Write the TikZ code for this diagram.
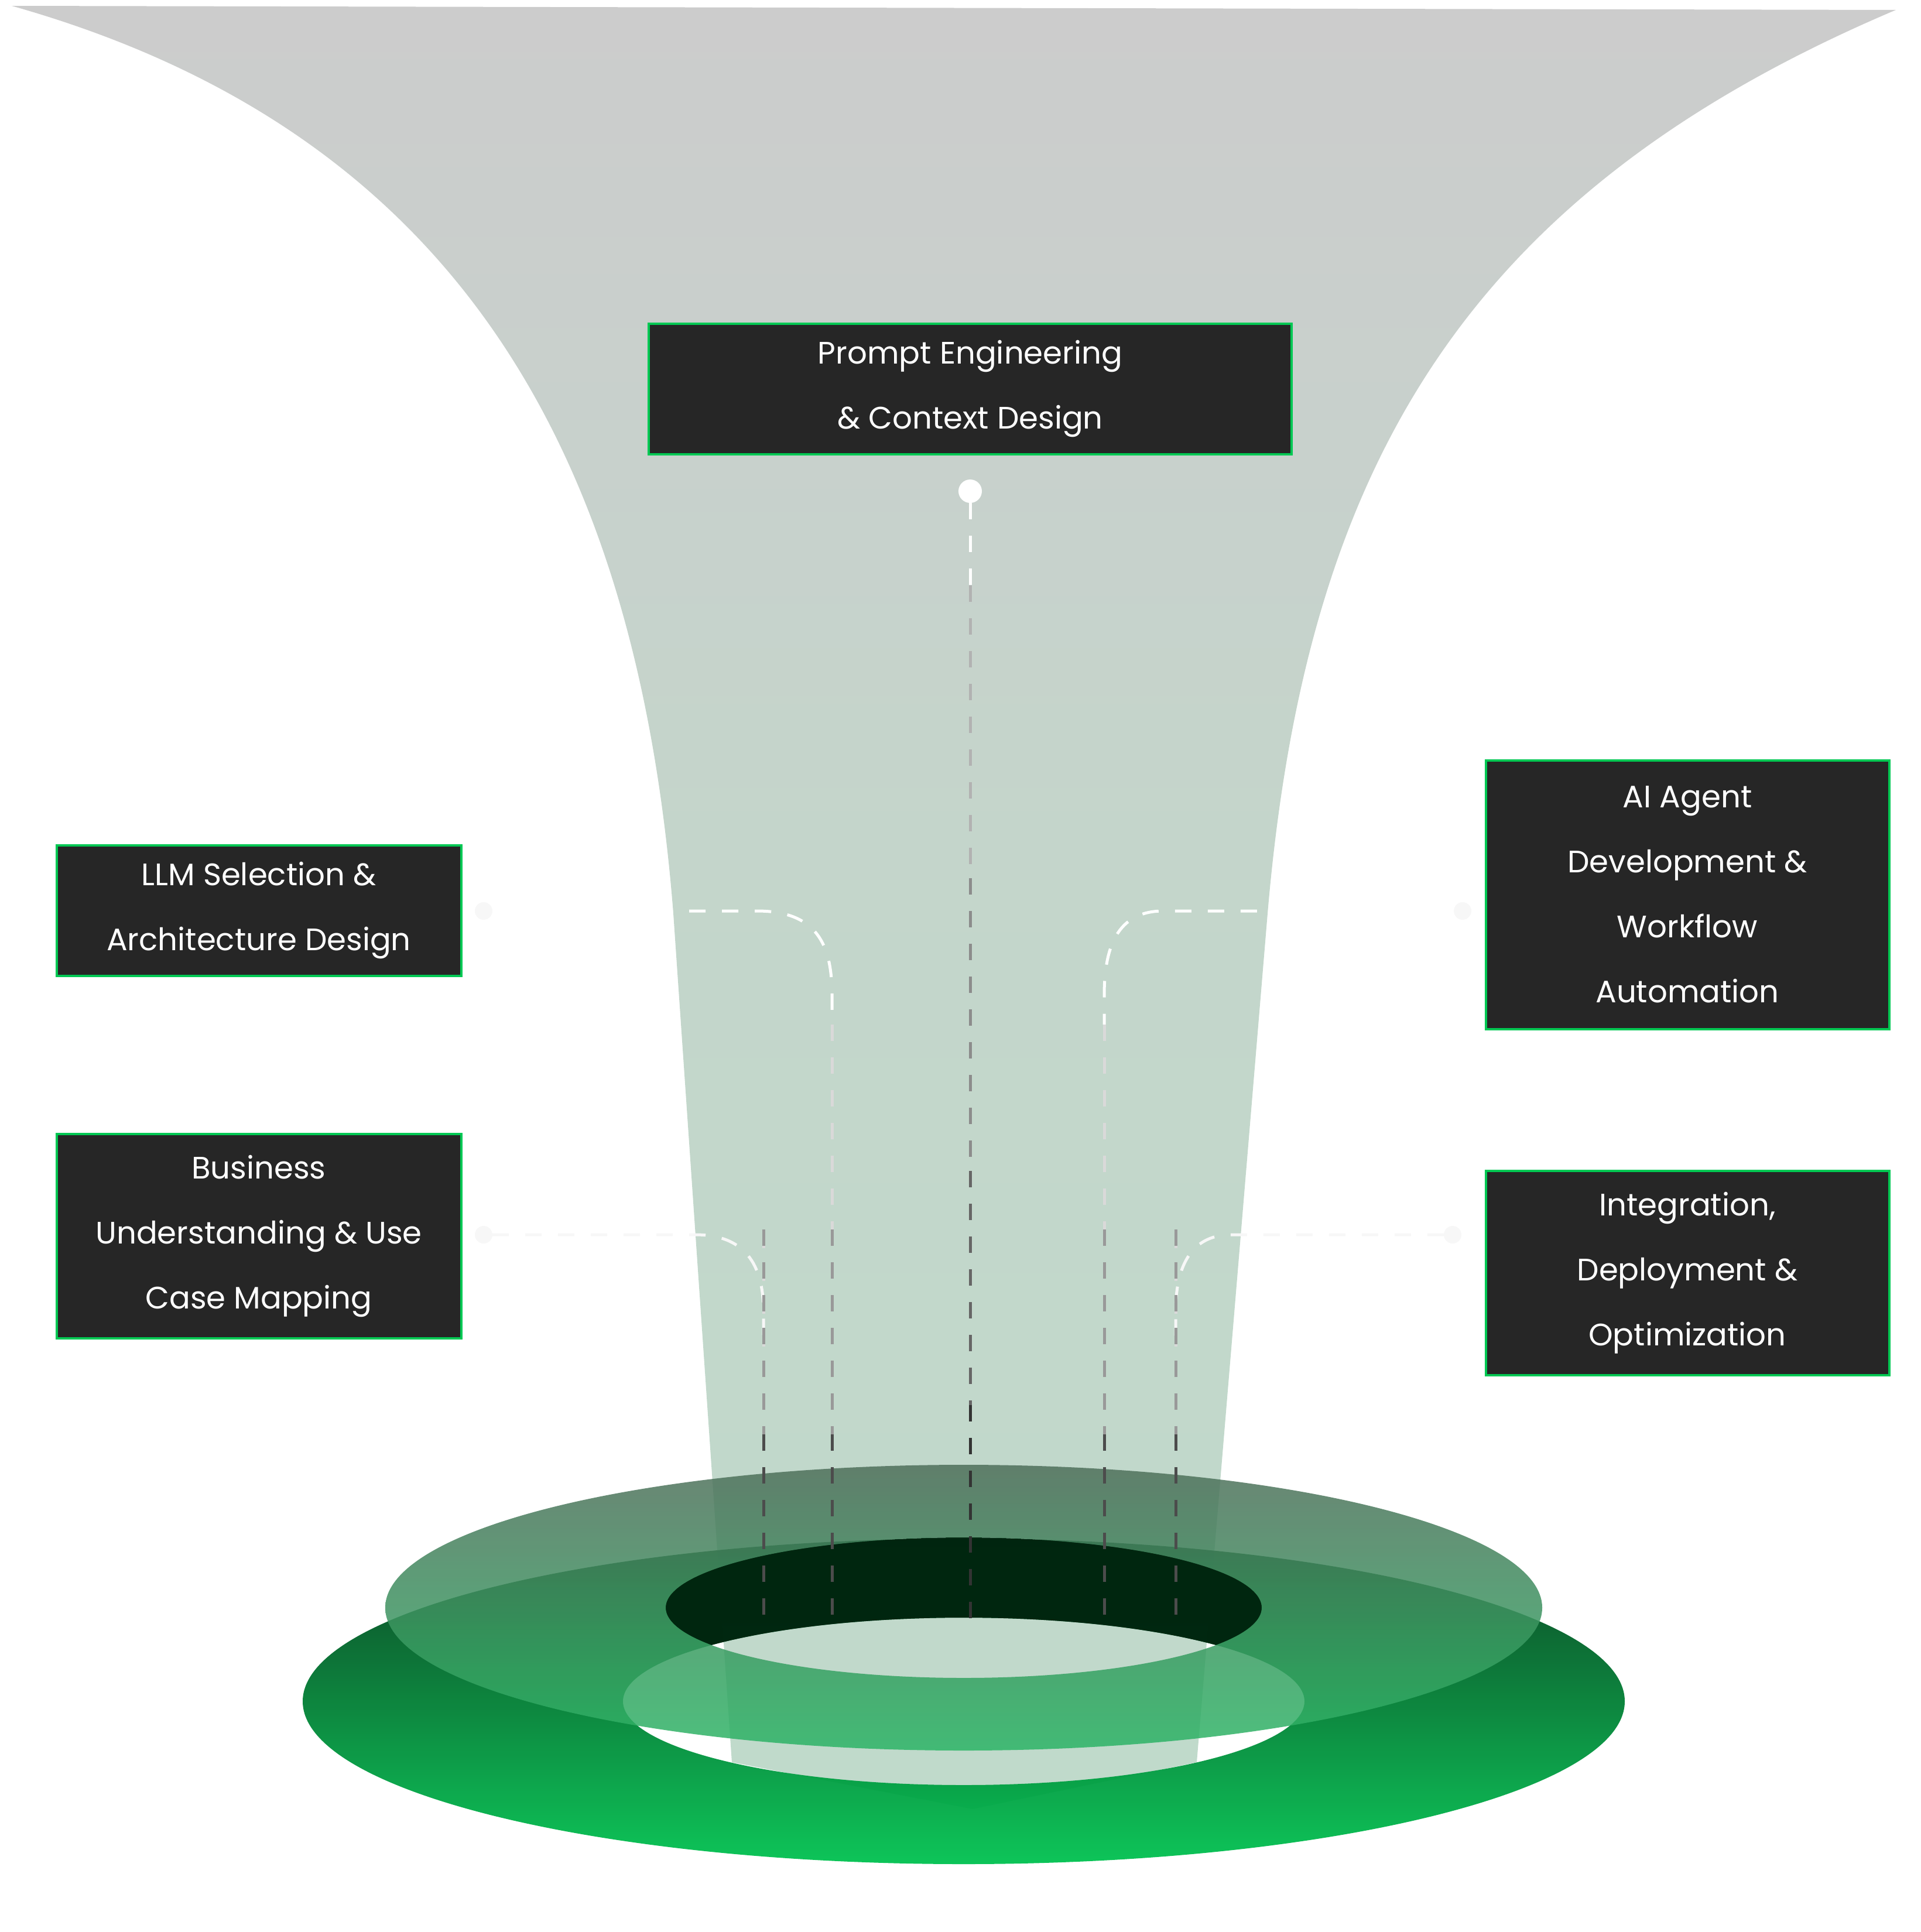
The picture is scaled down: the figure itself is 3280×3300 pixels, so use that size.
\documentclass[tikz,border=0pt]{standalone}
\usepackage{fontspec}
\setmainfont{Poppins}
\definecolor{bordergreen}{HTML}{00C853}
\definecolor{boxfill}{HTML}{262626}
\definecolor{funtop}{HTML}{CCCCCC}
\definecolor{funbot}{HTML}{C0DACB}
\definecolor{lrtop}{HTML}{003A18}
\definecolor{lrbot}{HTML}{00C250}
\definecolor{holedark}{HTML}{00250F}
\definecolor{urtop}{HTML}{4F6F5B}
\definecolor{urmid}{HTML}{A0F0C0}
\definecolor{urbot}{HTML}{2DB566}
\begin{document}
\begin{tikzpicture}[x=1pt,y=-1pt,
  box/.style={draw=bordergreen, fill=boxfill, line width=4pt, text=white, align=center, font=\fontsize{53}{111}\selectfont},
  conn/.style={line width=5pt, dash pattern=on 28pt off 28pt},
  dot/.style={circle, fill=white, inner sep=0pt, minimum size=40pt}]
\useasboundingbox (0,0) rectangle (3280,3300);
% funnel
\shade[top color=funtop, bottom color=funbot, middle color=funbot!70!funtop]
  (20,10) -- (3238,17) .. controls (2500,330) and (2230,800) .. (2165,1560)
  -- (2044,3010) -- (1661,3090) -- (1250,3010) -- (1150,1560)
  .. controls (1090,800) and (800,230) .. (20,10) -- cycle;
% lower ring
\shade[even odd rule, top color=lrtop, bottom color=lrbot, opacity=0.95]
  (1646,2906) ellipse [x radius=1129, y radius=278] (1646,2906) ellipse [x radius=582, y radius=143];
% dark upper hole, excluding lower hole
\begin{scope}[even odd rule]
\clip (0,0) rectangle (3280,3300) (1646,2906) ellipse [x radius=582, y radius=143];
\fill[holedark, opacity=0.97] (1646,2746) ellipse [x radius=509, y radius=120];
\end{scope}
% upper ring
\shade[even odd rule, top color=urtop, middle color=urmid, bottom color=urbot, opacity=0.85]
  (1646,2746) ellipse [x radius=988, y radius=244] (1646,2746) ellipse [x radius=509, y radius=120];
% boxes
\node[box, minimum width=1098, minimum height=223] (pe) at (1657,664) {Prompt Engineering\\ \& Context Design};
\node[box, minimum width=691, minimum height=223] (llm) at (442,1555) {LLM Selection \&\\Architecture Design};
\node[box, minimum width=691, minimum height=349] (bu) at (442,2111) {Business\\ Understanding \& Use\\Case Mapping};
\node[box, minimum width=689, minimum height=459] (ai) at (2882,1528) {AI Agent\\Development \&\\Workflow\\Automation};
\node[box, minimum width=689, minimum height=349] (in) at (2882,2174) {Integration,\\Deployment \&\\Optimization};
% dots
\node[dot] (c) at (1657,839) {};
\node[dot, minimum size=30pt, fill=white!97!black] (l1) at (826,1556) {};
\node[dot, minimum size=30pt, fill=white!97!black] (l2) at (826,2109) {};
\node[dot, minimum size=30pt, fill=white!97!black] (r1) at (2498,1556) {};
\node[dot, minimum size=30pt, fill=white!97!black] (r2) at (2481,2109) {};
% connectors
\draw[conn, white] (c) -- (1657,1000);
\foreach \a/\b/\col in {1000/1500/black!30, 1500/2000/black!45, 2000/2400/black!60, 2400/2780/black!80}
  \draw[conn, \col] (1657,\a) -- (1657,\b);
\draw[conn, white] (l1) -- (1293,1556) .. controls (1400,1556) and (1421,1620) .. (1421,1700) -- (1421,1750);
\draw[conn, white] (r1) -- (1987,1556) .. controls (1907,1556) and (1886,1620) .. (1886,1700) -- (1886,1750);
\draw[conn, white!97!black] (l2) -- (1188,2109) .. controls (1280,2109) and (1304,2170) .. (1304,2240) -- (1304,2300);
\draw[conn, white!97!black] (r2) -- (2103,2109) .. controls (2030,2109) and (2008,2170) .. (2008,2240) -- (2008,2300);
\foreach \x/\s in {1421/1750, 1886/1750, 1304/2300, 2008/2300}{
  \draw[conn, black!15] (\x,\s) -- (\x,2100);
  \draw[conn, black!40] (\x,2100) -- (\x,2450);
  \draw[conn, black!70] (\x,2450) -- (\x,2765);
}
\end{tikzpicture}
\end{document}
